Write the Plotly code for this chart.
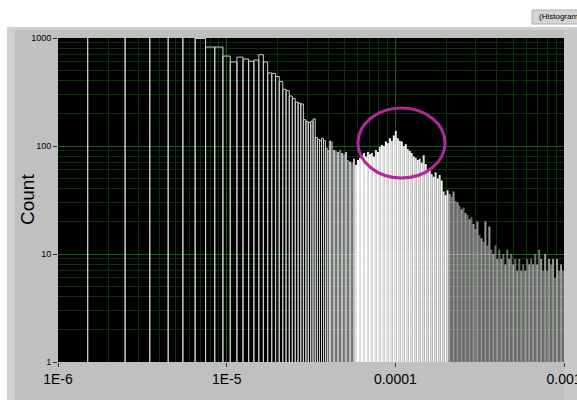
import numpy as np
import plotly.graph_objects as go

# ---------------- data ----------------
# fine histogram bins: 1 µs wide, centred on k µs
fine_k_us = list(range(1, 41))
fine_counts = [2000, 1800, 1600, 1500, 1400, 1300, 990, 825, 825, 680,
               600, 665, 640, 610, 625, 700, 600, 475, 470, 440,
               395, 335, 325, 290, 275, 255, 250, 245, 175, 168,
               165, 170, 178, 120, 115, 112, 118, 112, 95, 90]

# dense region (40.5 µs .. 1000.5 µs), merged bins, log-spaced
coarse_range_us = (40.5, 1000.5)
coarse_counts = [112, 110, 92, 90, 88, 92, 86, 84, 88, 74,
                 72, 70, 76, 67, 74, 78, 82, 86, 80, 88,
                 84, 86, 80, 92, 88, 98, 102, 100, 110, 106,
                 118, 112, 125, 138, 118, 112, 110, 100, 104, 94,
                 90, 86, 80, 78, 74, 76, 70, 82, 68, 58,
                 60, 55, 52, 57, 50, 54, 48, 38, 35, 39,
                 36, 34, 38, 31, 30, 28, 26, 27, 24, 23,
                 21, 22, 19, 17, 20, 15, 14, 13, 20, 12,
                 18, 11, 10, 12, 9, 11, 9, 10, 8, 11,
                 9, 10, 8, 9, 7, 9, 7, 8, 7, 9,
                 8, 9, 8, 10, 8, 11, 9, 7, 10, 7,
                 9, 8, 9, 6, 9, 7, 8, 7]

x_tick_vals = [1e-6, 1e-5, 1e-4, 1e-3]
x_tick_text = ["1E-6", "1E-5", "0.0001", "0.001"]
y_tick_vals = [1, 10, 100, 1000]
y_tick_text = ["1", "10", "100", "1000"]
y_title = "Count"
legend_label = "(Histogram"

# ---------------- geometry helpers ----------------
W, H = 577, 400
ML, MR, MT, MB = 58, 13, 38, 38
PW, PH = W - ML - MR, H - MT - MB


def px2paper_x(px):
    return (px - ML) / PW


def px2paper_y(py):
    return (H - MB - py) / PH


def bar_path(lo, hi, c):
    return [lo, lo, hi, hi, None], [1, c, c, 1, None]


fig = go.Figure()

# fine bars: outlines
fx, fy = [], []
for k, c in zip(fine_k_us, fine_counts):
    xs, ys = bar_path((k - 0.5) * 1e-6, (k + 0.5) * 1e-6, c)
    fx += xs
    fy += ys
fig.add_trace(go.Scatter(x=fx, y=fy, mode="lines",
                         line=dict(color="#d0d0d0", width=1),
                         hoverinfo="skip", showlegend=False))

# coarse bars: filled, grouped by shade
edges = np.geomspace(coarse_range_us[0], coarse_range_us[1], len(coarse_counts) + 1) * 1e-6
groups = {}
for i, c in enumerate(coarse_counts):
    lo, hi = edges[i], edges[i + 1]
    mid = np.sqrt(lo * hi)
    if mid < 58e-6:
        a = 0.75 if i % 2 == 0 else 0.45
    elif mid < 205e-6:
        a = 1.0 if i % 2 == 0 else 0.88
    else:
        a = 0.6 if i % 2 == 0 else 0.42
    xs, ys = bar_path(lo, hi, c)
    g = groups.setdefault(a, ([], []))
    g[0].extend(xs)
    g[1].extend(ys)

for a, (xs, ys) in groups.items():
    fig.add_trace(go.Scatter(x=xs, y=ys, mode="lines", fill="toself",
                             fillcolor=f"rgba(255,255,255,{a})",
                             line=dict(width=0, color=f"rgba(255,255,255,{a})"),
                             hoverinfo="skip", showlegend=False))

# ---------------- panel decorations ----------------
shapes = [
    dict(type="rect", xref="paper", yref="paper", layer="below",
         x0=px2paper_x(7), x1=px2paper_x(580), y0=px2paper_y(27), y1=px2paper_y(402),
         fillcolor="#c0c0c0", line=dict(width=0)),
    dict(type="rect", xref="paper", yref="paper", layer="below",
         x0=px2paper_x(7), x1=px2paper_x(15), y0=px2paper_y(27), y1=px2paper_y(402),
         fillcolor="#d0d0d0", line=dict(width=0)),
    dict(type="rect", xref="paper", yref="paper", layer="below",
         x0=px2paper_x(7), x1=px2paper_x(580), y0=px2paper_y(27), y1=px2paper_y(30),
         fillcolor="#d0d0d0", line=dict(width=0)),
    dict(type="rect", xref="paper", yref="paper", layer="below",
         x0=1, x1=px2paper_x(580), y0=px2paper_y(30), y1=px2paper_y(402),
         fillcolor="#c8c8c8", line=dict(width=0)),
    dict(type="rect", xref="paper", yref="paper", layer="below",
         x0=0, x1=1, y0=0, y1=1, fillcolor="#000000", line=dict(width=0)),
    dict(type="rect", xref="paper", yref="paper", layer="below",
         x0=px2paper_x(532), x1=px2paper_x(580), y0=px2paper_y(10), y1=px2paper_y(24),
         fillcolor="#d4d4d4", line=dict(width=1, color="#b0b0b0")),
    dict(type="circle", xref="paper", yref="paper", layer="above",
         x0=px2paper_x(358), x1=px2paper_x(445), y0=px2paper_y(178), y1=px2paper_y(108),
         line=dict(color="#b0289a", width=3)),
]

annotations = [
    dict(text=y_title, xref="paper", yref="paper", x=px2paper_x(27), y=0.5,
         textangle=-90, showarrow=False, xanchor="center", yanchor="middle",
         font=dict(family="Liberation Sans, Arial, sans-serif", size=19, color="#000")),
    dict(text=legend_label, xref="paper", yref="paper", x=px2paper_x(537), y=px2paper_y(16.5),
         showarrow=False, xanchor="left", yanchor="middle",
         font=dict(family="Liberation Sans, Arial, sans-serif", size=8, color="#000")),
]

grid_major = "#1b5a1b"
grid_minor = "#0b320b"

fig.update_layout(
    width=W, height=H,
    margin=dict(l=ML, r=MR, t=MT, b=MB, autoexpand=False),
    paper_bgcolor="#ffffff",
    plot_bgcolor="rgba(0,0,0,0)",
    showlegend=False,
    shapes=shapes,
    annotations=annotations,
    xaxis=dict(type="log", range=[-6, -3], tickmode="array",
               tickvals=x_tick_vals, ticktext=x_tick_text,
               ticks="outside", ticklen=4, tickcolor="#333",
               ticklabeloverflow="allow", automargin=False,
               tickfont=dict(family="Liberation Sans, Arial, sans-serif", size=14, color="#000"),
               showgrid=True, gridcolor=grid_major, gridwidth=1,
               minor=dict(dtick="D1", showgrid=True, gridcolor=grid_minor, ticks=""),
               zeroline=False, showline=False, fixedrange=True),
    yaxis=dict(type="log", range=[0, 3], tickmode="array",
               tickvals=y_tick_vals, ticktext=y_tick_text,
               ticks="outside", ticklen=4, tickcolor="#333",
               automargin=False,
               tickfont=dict(family="Liberation Sans, Arial, sans-serif", size=9, color="#000"),
               showgrid=True, gridcolor=grid_major, gridwidth=1,
               minor=dict(dtick="D1", showgrid=True, gridcolor=grid_minor, ticks=""),
               zeroline=False, showline=False, fixedrange=True),
)

fig.write_html("out.html", config={"displayModeBar": False},
               post_script="document.body.style.margin='0';")
